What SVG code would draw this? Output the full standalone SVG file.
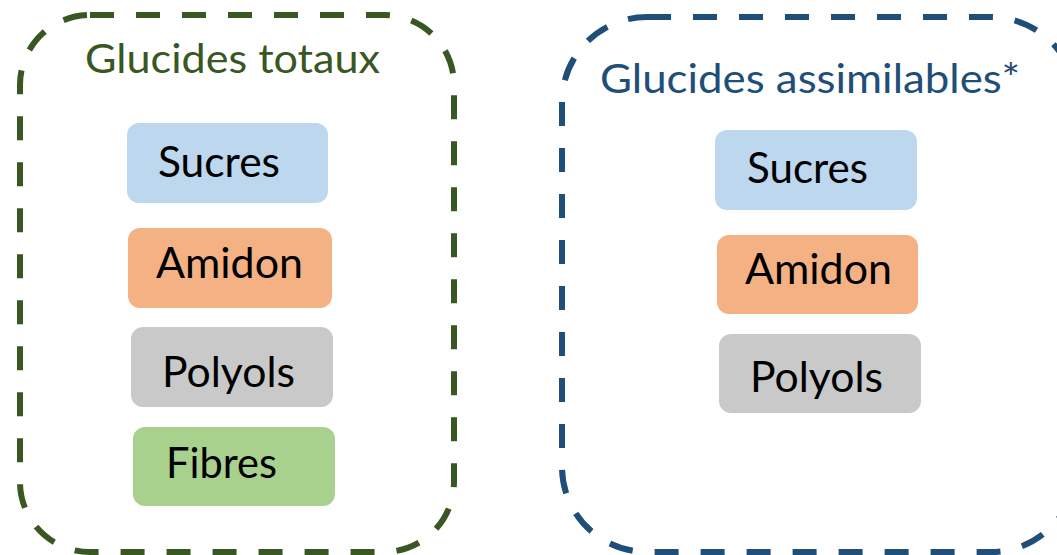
<svg xmlns="http://www.w3.org/2000/svg" width="1057" height="555" viewBox="0 0 1057 555">
<style>
.cont{fill:none;stroke-width:6;stroke-dasharray:24 22}
.green{stroke:#385723}
.blue{stroke:#1F4E79}
.title{font-family:Lato,"Liberation Sans",sans-serif;font-size:41px}
.lbl{font-family:Lato,"Liberation Sans",sans-serif;font-size:42px;fill:#000}
.sucres{fill:#BDD7EE}
.amidon{fill:#F4B183}
.polyols{fill:#C9C9C9}
.fibres{fill:#A9D18E}
</style>
<rect width="1057" height="555" fill="#fff"/>
<g id="glucides-totaux">
<rect class="cont green" x="20" y="15" width="434" height="537" rx="70"/>
<text class="title" x="85" y="73" fill="#385723" textLength="295" lengthAdjust="spacingAndGlyphs">Glucides totaux</text>
</g>
<g id="glucides-assimilables">
<rect class="cont blue" x="562" y="17" width="514" height="535" rx="85"/>
<text class="title" x="600" y="93" fill="#1F4E79" textLength="420" lengthAdjust="spacingAndGlyphs">Glucides assimilables*</text>
</g>
<g id="t-sucres">
<rect class="sucres" x="127" y="123" width="201" height="80" rx="12"/>
<text class="lbl" x="158" y="177" textLength="122" lengthAdjust="spacingAndGlyphs">Sucres</text>
</g>
<g id="t-amidon">
<rect class="amidon" x="128" y="228" width="204" height="80" rx="12"/>
<text class="lbl" x="156" y="278" textLength="147" lengthAdjust="spacingAndGlyphs">Amidon</text>
</g>
<g id="t-polyols">
<rect class="polyols" x="131" y="327" width="202" height="80" rx="12"/>
<text class="lbl" x="162" y="387" textLength="133" lengthAdjust="spacingAndGlyphs">Polyols</text>
</g>
<g id="t-fibres">
<rect class="fibres" x="133" y="427" width="202" height="79" rx="12"/>
<text class="lbl" x="166" y="478" textLength="111" lengthAdjust="spacingAndGlyphs">Fibres</text>
</g>
<g id="a-sucres">
<rect class="sucres" x="715" y="130" width="202" height="80" rx="12"/>
<text class="lbl" x="747" y="183" textLength="121" lengthAdjust="spacingAndGlyphs">Sucres</text>
</g>
<g id="a-amidon">
<rect class="amidon" x="717" y="235" width="201" height="79" rx="12"/>
<text class="lbl" x="745" y="284" textLength="147" lengthAdjust="spacingAndGlyphs">Amidon</text>
</g>
<g id="a-polyols">
<rect class="polyols" x="719" y="334" width="202" height="79" rx="12"/>
<text class="lbl" x="750" y="392" textLength="133" lengthAdjust="spacingAndGlyphs">Polyols</text>
</g>
<g id="connectors"></g>
</svg>
